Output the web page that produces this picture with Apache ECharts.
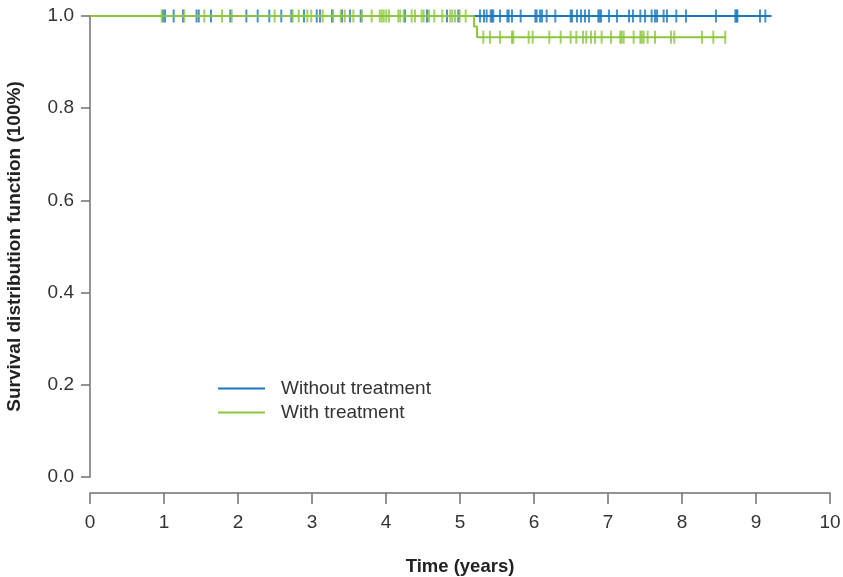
<!DOCTYPE html>
<html>
<head>
<meta charset="utf-8">
<script src="https://cdn.jsdelivr.net/npm/echarts@6/dist/echarts.min.js"></script>
<style>
  html, body { margin: 0; padding: 0; background: #fff; }
  #chart { width: 843px; height: 577px; }
</style>
</head>
<body>
<div id="chart"></div>
<script>
// Kaplan-Meier curves
const groupNames = ['Without treatment', 'With treatment']
const colors = ['#1c78bd', '#8cc63f']

// step points: time (years) and survival after the step
const noTxTimes = [0, 9.21]
const noTxSurv = [1, 1]
const txTimes = [0, 5.19, 5.23, 8.595]
const txSurv = [1, 0.977, 0.954, 0.954]

// censoring times
const noTxCensor = [0.986, 1.014, 1.131, 1.257, 1.44, 1.47, 1.635, 1.896, 2.113, 2.266,
  2.423, 2.585, 2.72, 2.892, 3.064, 3.108, 3.27, 3.405, 3.514, 3.658,
  4.257, 4.554, 4.824, 4.977,
  5.27, 5.324, 5.36, 5.415, 5.432, 5.45, 5.541, 5.64, 5.658, 5.703, 5.82, 6.018, 6.036,
  6.081, 6.108, 6.171, 6.288, 6.496, 6.514,
  6.581, 6.635, 6.689, 6.743, 6.869, 6.887, 6.905, 7.014, 7.122, 7.284, 7.338, 7.437,
  7.5, 7.59, 7.635, 7.662, 7.752, 7.797, 7.923,
  8.054, 8.459, 8.72, 8.739, 8.748, 9.054, 9.126]
const txCensor = [0.969, 1.274, 1.545, 1.784, 1.915,
  2.496, 2.739, 2.82, 2.937, 2.99, 3.145, 3.288, 3.388, 3.442, 3.559, 3.676,
  3.807, 3.915, 3.942, 3.969, 4.004, 4.041, 4.166, 4.193, 4.239, 4.347, 4.392, 4.482,
  4.509, 4.581, 4.653, 4.761, 4.869, 4.896, 4.932, 4.996, 5.077,
  5.315, 5.405, 5.541, 5.703, 5.72, 5.928, 5.982, 6.207, 6.361, 6.496,
  6.572, 6.662, 6.707, 6.77, 6.824, 6.914, 7.041, 7.166, 7.184, 7.212, 7.347, 7.437,
  7.455, 7.482, 7.536, 7.635, 7.851, 7.896,
  8.27, 8.423, 8.585]

const xTicks = [0, 1, 2, 3, 4, 5, 6, 7, 8, 9, 10]
const yTicks = [0, 0.2, 0.4, 0.6, 0.8, 1.0]

function survAt (times, surv, t) {
  let s = surv[0]
  for (let i = 0; i < times.length; i++) {
    if (times[i] <= t) s = surv[i]
  }
  return s
}

function stepData (times, surv) {
  return times.map((t, i) => [t, surv[i]])
}

function censorData (ct, times, surv) {
  return ct.map(t => [t, survAt(times, surv, t)])
}

const font = 'Liberation Sans, Arial, Helvetica, sans-serif'
const axisColor = '#707070'

let myChart = echarts.init(document.getElementById('chart'))
myChart.setOption({
  animation: false,
  textStyle: { fontFamily: font },
  grid: { left: 90, right: 13, top: 16, bottom: 100, containLabel: false, outerBoundsMode: 'none' },
  legend: {
    data: groupNames,
    orient: 'vertical',
    left: 218,
    top: 379,
    padding: 0,
    icon: 'rect',
    itemWidth: 47,
    itemHeight: 2,
    itemGap: 5,
    textStyle: { fontSize: 19, color: '#333', padding: [0, 0, 0, 11], fontFamily: font }
  },
  xAxis: {
    type: 'value',
    min: xTicks[0],
    max: xTicks[xTicks.length - 1],
    interval: 1,
    offset: 16,
    name: 'Time (years)',
    nameLocation: 'middle',
    nameGap: 64,
    nameTextStyle: { fontSize: 18.5, fontWeight: 'bold', color: '#222' },
    axisLine: { show: true, onZero: false, lineStyle: { color: axisColor, width: 1.5 } },
    axisTick: { show: true, length: 11, lineStyle: { color: axisColor, width: 1.5 } },
    axisLabel: { fontSize: 19, color: '#333', margin: 20 },
    splitLine: { show: false }
  },
  yAxis: {
    type: 'value',
    min: yTicks[0],
    max: yTicks[yTicks.length - 1],
    interval: 0.2,
    name: 'Survival distribution function (100%)',
    nameLocation: 'middle',
    nameGap: 66,
    nameTextStyle: { fontSize: 19, fontWeight: 'bold', color: '#222' },
    axisLine: { show: true, onZero: false, lineStyle: { color: axisColor, width: 1.5 } },
    axisTick: { show: true, length: 9, lineStyle: { color: axisColor, width: 1.5 } },
    axisLabel: { fontSize: 19, color: '#333', margin: 16, formatter: v => v.toFixed(1) },
    splitLine: { show: false }
  },
  series: [
    {
      name: groupNames[0],
      type: 'line',
      step: 'end',
      clip: false,
      showSymbol: false,
      data: stepData(noTxTimes, noTxSurv),
      lineStyle: { color: colors[0], width: 2 },
      itemStyle: { color: colors[0] }
    },
    {
      name: groupNames[1],
      type: 'line',
      step: 'end',
      clip: false,
      showSymbol: false,
      data: stepData(txTimes, txSurv),
      lineStyle: { color: colors[1], width: 2 },
      itemStyle: { color: colors[1] }
    },
    {
      name: 'censor0',
      type: 'scatter',
      clip: false,
      symbol: 'rect',
      symbolSize: [2, 13],
      data: censorData(noTxCensor, noTxTimes, noTxSurv),
      itemStyle: { color: colors[0] }
    },
    {
      name: 'censor1',
      type: 'scatter',
      clip: false,
      symbol: 'rect',
      symbolSize: [2, 13],
      data: censorData(txCensor, txTimes, txSurv),
      itemStyle: { color: colors[1] }
    }
  ]
})
</script>
</body>
</html>
